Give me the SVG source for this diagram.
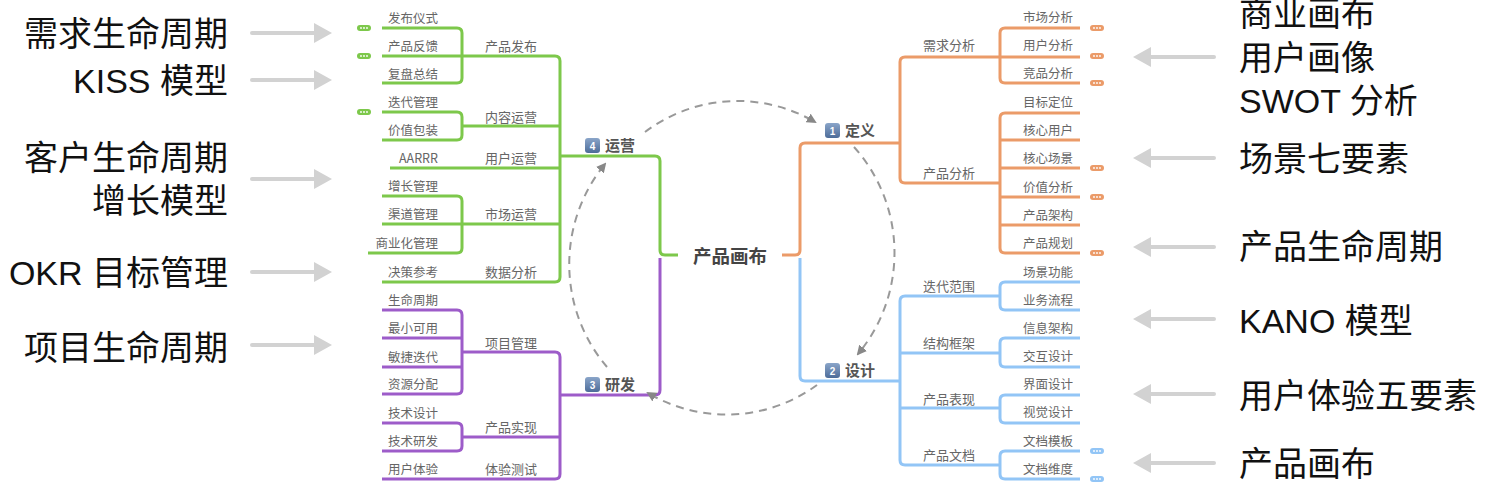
<svg xmlns="http://www.w3.org/2000/svg" xmlns:xlink="http://www.w3.org/1999/xlink" width="1500" height="497" viewBox="0 0 1500 497">
<defs>
<style>
.big{font-family:"Liberation Sans","Noto Sans CJK SC",sans-serif;font-size:34px;fill:#111}
.t{font-family:"Noto Sans CJK SC","Liberation Sans",sans-serif;font-size:12.5px;fill:#666}
.sub{font-family:"Noto Sans CJK SC","Liberation Sans",sans-serif;font-size:13px;fill:#666;text-anchor:middle}
.main{font-family:"Noto Sans CJK SC",sans-serif;font-size:15px;fill:#555;font-weight:700}
.root{font-family:"Noto Sans CJK SC",sans-serif;font-size:18.5px;fill:#444;font-weight:700;text-anchor:middle}
.num{font-family:"Liberation Sans",sans-serif;font-size:10px;fill:#fff;font-weight:700;text-anchor:middle}
.g{fill:none;stroke:#7dc84b;stroke-width:3;stroke-linejoin:round}
.o{fill:none;stroke:#eb9b69;stroke-width:3;stroke-linejoin:round}
.b{fill:none;stroke:#92c5f6;stroke-width:3;stroke-linejoin:round}
.p{fill:none;stroke:#9d5cc9;stroke-width:3;stroke-linejoin:round}
.dash{fill:none;stroke:#999;stroke-width:2;stroke-dasharray:8 6}
.garrow{stroke:#d2d2d2;stroke-width:4;stroke-linecap:round}
.ghead{fill:#d2d2d2}
</style>
<linearGradient id="ic" x1="0" y1="0" x2="0" y2="1">
<stop offset="0" stop-color="#8aa5c9"/>
<stop offset="1" stop-color="#4d6c99"/>
</linearGradient>
<marker id="ah" markerWidth="10" markerHeight="10" refX="8" refY="5" orient="auto" markerUnits="userSpaceOnUse">
<path d="M0,0 L10,5 L0,10 Z" fill="#888"/>
</marker>
<g id="dots"><circle cx="4" cy="0" r="0.9" fill="#fff"/><circle cx="7" cy="0" r="0.9" fill="#fff"/><circle cx="10" cy="0" r="0.9" fill="#fff"/></g>
</defs>
<rect width="1500" height="497" fill="#fff"/>

<g id="connectors">
<!-- green -->
<path class="g" d="M382,28 H457 Q462,28 462,33 V78 Q462,83 457,83 H382"/>
<path class="g" d="M382,56 H555 Q560,56 560,61 V277 Q560,282 555,282 H382"/>
<path class="g" d="M382,112 H457 Q462,112 462,117 V135 Q462,140 457,140 H382"/>
<path class="g" d="M462,126 H560"/>
<path class="g" d="M390,168 H560"/>
<path class="g" d="M382,196 H457 Q462,196 462,201 V248 Q462,253 457,253 H368"/>
<path class="g" d="M382,224 H560"/>
<path class="g" d="M560,156 H655 Q660,156 660,161 V250 Q660,255 665,255 H678"/>
<!-- purple -->
<path class="p" d="M660,258 V390 Q660,395 655,395 H560"/>
<path class="p" d="M462,352 H555 Q560,352 560,357 V474 Q560,479 555,479 H382"/>
<path class="p" d="M382,310 H457 Q462,310 462,315 V389 Q462,394 457,394 H382"/>
<path class="p" d="M382,338 H462 M382,367 H462"/>
<path class="p" d="M382,423 H457 Q462,423 462,428 V446 Q462,451 457,451 H382"/>
<path class="p" d="M462,437 H560"/>
<!-- orange -->
<path class="o" d="M782,255 H795 Q800,255 800,250 V148 Q800,143 805,143 H900"/>
<path class="o" d="M1080,57 H905 Q900,57 900,62 V178 Q900,183 905,183 H1000"/>
<path class="o" d="M1080,28 H1005 Q1000,28 1000,33 V78 Q1000,83 1005,83 H1080"/>
<path class="o" d="M1080,113 H1005 Q1000,113 1000,118 V248 Q1000,253 1005,253 H1080"/>
<path class="o" d="M1000,140 H1080 M1000,168 H1080 M1000,197 H1080 M1000,225 H1080"/>
<!-- blue -->
<path class="b" d="M800,258 V376 Q800,381 805,381 H900"/>
<path class="b" d="M1000,296 H905 Q900,296 900,301 V460 Q900,465 905,465 H1000"/>
<path class="b" d="M900,353 H1000 M900,408 H1000"/>
<path class="b" d="M1080,282 H1005 Q1000,282 1000,287 V305 Q1000,310 1005,310 H1080"/>
<path class="b" d="M1080,338 H1005 Q1000,338 1000,343 V362 Q1000,367 1005,367 H1080"/>
<path class="b" d="M1080,395 H1005 Q1000,395 1000,400 V418 Q1000,423 1005,423 H1080"/>
<path class="b" d="M1080,451 H1005 Q1000,451 1000,456 V474 Q1000,479 1005,479 H1080"/>
<!-- dashed cycle -->
<path class="dash" d="M645,132 A155 157 0 0 1 815,122" marker-end="url(#ah)"/>
<path class="dash" d="M854,147 A155 157 0 0 1 858,354" marker-end="url(#ah)"/>
<path class="dash" d="M817,385 A155 157 0 0 1 648,393" marker-end="url(#ah)"/>
<path class="dash" d="M607,367 A155 157 0 0 1 605,164" marker-end="url(#ah)"/>
<!-- big gray arrows left -->
<g>
<line class="garrow" x1="252" y1="33" x2="316" y2="33"/><path class="ghead" d="M314,23 L332,33 L314,43 Z"/>
<line class="garrow" x1="252" y1="80" x2="316" y2="80"/><path class="ghead" d="M314,70 L332,80 L314,90 Z"/>
<line class="garrow" x1="252" y1="179" x2="316" y2="179"/><path class="ghead" d="M314,169 L332,179 L314,189 Z"/>
<line class="garrow" x1="252" y1="272" x2="316" y2="272"/><path class="ghead" d="M314,262 L332,272 L314,282 Z"/>
<line class="garrow" x1="252" y1="345" x2="316" y2="345"/><path class="ghead" d="M314,335 L332,345 L314,355 Z"/>
</g>
<!-- big gray arrows right -->
<g>
<line class="garrow" x1="1148" y1="57" x2="1214" y2="57"/><path class="ghead" d="M1151,47 L1133,57 L1151,67 Z"/>
<line class="garrow" x1="1148" y1="158" x2="1214" y2="158"/><path class="ghead" d="M1151,148 L1133,158 L1151,168 Z"/>
<line class="garrow" x1="1148" y1="247" x2="1214" y2="247"/><path class="ghead" d="M1151,237 L1133,247 L1151,257 Z"/>
<line class="garrow" x1="1148" y1="319" x2="1214" y2="319"/><path class="ghead" d="M1151,309 L1133,319 L1151,329 Z"/>
<line class="garrow" x1="1148" y1="394" x2="1214" y2="394"/><path class="ghead" d="M1151,384 L1133,394 L1151,404 Z"/>
<line class="garrow" x1="1148" y1="463" x2="1214" y2="463"/><path class="ghead" d="M1151,453 L1133,463 L1151,473 Z"/>
</g>
</g>

<!-- collapse pills -->
<g id="pills">
<g transform="translate(357,28)"><rect x="0" y="-3" width="14" height="6" rx="3" fill="#7dc84b"/><use xlink:href="#dots" href="#dots"/></g>
<g transform="translate(357,56)"><rect x="0" y="-3" width="14" height="6" rx="3" fill="#7dc84b"/><use xlink:href="#dots" href="#dots"/></g>
<g transform="translate(357,112)"><rect x="0" y="-3" width="14" height="6" rx="3" fill="#7dc84b"/><use xlink:href="#dots" href="#dots"/></g>
<g transform="translate(1090,28)"><rect x="0" y="-3" width="14" height="6" rx="3" fill="#eb9b69"/><use xlink:href="#dots" href="#dots"/></g>
<g transform="translate(1090,56)"><rect x="0" y="-3" width="14" height="6" rx="3" fill="#eb9b69"/><use xlink:href="#dots" href="#dots"/></g>
<g transform="translate(1090,83)"><rect x="0" y="-3" width="14" height="6" rx="3" fill="#eb9b69"/><use xlink:href="#dots" href="#dots"/></g>
<g transform="translate(1090,168)"><rect x="0" y="-3" width="14" height="6" rx="3" fill="#eb9b69"/><use xlink:href="#dots" href="#dots"/></g>
<g transform="translate(1090,197)"><rect x="0" y="-3" width="14" height="6" rx="3" fill="#eb9b69"/><use xlink:href="#dots" href="#dots"/></g>
<g transform="translate(1090,253)"><rect x="0" y="-3" width="14" height="6" rx="3" fill="#eb9b69"/><use xlink:href="#dots" href="#dots"/></g>
<g transform="translate(1090,451)"><rect x="0" y="-3" width="14" height="6" rx="3" fill="#92c5f6"/><use xlink:href="#dots" href="#dots"/></g>
<g transform="translate(1090,479)"><rect x="0" y="-3" width="14" height="6" rx="3" fill="#92c5f6"/><use xlink:href="#dots" href="#dots"/></g>
</g>

<!-- root and main topics -->
<g id="root"><text class="root" x="730" y="263">产品画布</text></g>
<g id="n-yunying"><rect x="585" y="138" width="15" height="15" rx="3" fill="url(#ic)"/><text class="num" x="592.5" y="149.5">4</text><text class="main" x="605" y="151">运营</text></g>
<g id="n-dingyi"><rect x="825" y="123" width="15" height="15" rx="3" fill="url(#ic)"/><text class="num" x="832.5" y="134.5">1</text><text class="main" x="845" y="136">定义</text></g>
<g id="n-sheji"><rect x="825" y="363" width="15" height="15" rx="3" fill="url(#ic)"/><text class="num" x="832.5" y="374.5">2</text><text class="main" x="845" y="376">设计</text></g>
<g id="n-yanfa"><rect x="585" y="377" width="15" height="15" rx="3" fill="url(#ic)"/><text class="num" x="592.5" y="388.5">3</text><text class="main" x="605" y="390">研发</text></g>

<!-- left sub topics -->
<g id="left-subs">
<text class="sub" x="511" y="51">产品发布</text>
<text class="sub" x="511" y="122">内容运营</text>
<text class="sub" x="511" y="163">用户运营</text>
<text class="sub" x="511" y="219">市场运营</text>
<text class="sub" x="511" y="277">数据分析</text>
<text class="sub" x="511" y="348">项目管理</text>
<text class="sub" x="511" y="432">产品实现</text>
<text class="sub" x="511" y="474">体验测试</text>
</g>
<g id="left-leaves" text-anchor="end">
<text class="t" x="438" y="23">发布仪式</text>
<text class="t" x="438" y="51">产品反馈</text>
<text class="t" x="438" y="79">复盘总结</text>
<text class="t" x="438" y="107">迭代管理</text>
<text class="t" x="438" y="135">价值包装</text>
<text class="t" x="438" y="163">AARRR</text>
<text class="t" x="438" y="191">增长管理</text>
<text class="t" x="438" y="219">渠道管理</text>
<text class="t" x="438" y="248">商业化管理</text>
<text class="t" x="438" y="277">决策参考</text>
<text class="t" x="438" y="305">生命周期</text>
<text class="t" x="438" y="333">最小可用</text>
<text class="t" x="438" y="362">敏捷迭代</text>
<text class="t" x="438" y="389">资源分配</text>
<text class="t" x="438" y="418">技术设计</text>
<text class="t" x="438" y="446">技术研发</text>
<text class="t" x="438" y="474">用户体验</text>
</g>

<!-- right sub topics -->
<g id="right-subs">
<text class="sub" x="949" y="50">需求分析</text>
<text class="sub" x="949" y="178">产品分析</text>
<text class="sub" x="949" y="291">迭代范围</text>
<text class="sub" x="949" y="348">结构框架</text>
<text class="sub" x="949" y="404">产品表现</text>
<text class="sub" x="949" y="460">产品文档</text>
</g>
<g id="right-leaves" text-anchor="end">
<text class="t" x="1073" y="22">市场分析</text>
<text class="t" x="1073" y="50">用户分析</text>
<text class="t" x="1073" y="78">竞品分析</text>
<text class="t" x="1073" y="107">目标定位</text>
<text class="t" x="1073" y="135">核心用户</text>
<text class="t" x="1073" y="163">核心场景</text>
<text class="t" x="1073" y="192">价值分析</text>
<text class="t" x="1073" y="220">产品架构</text>
<text class="t" x="1073" y="248">产品规划</text>
<text class="t" x="1073" y="277">场景功能</text>
<text class="t" x="1073" y="305">业务流程</text>
<text class="t" x="1073" y="333">信息架构</text>
<text class="t" x="1073" y="361">交互设计</text>
<text class="t" x="1073" y="389">界面设计</text>
<text class="t" x="1073" y="417">视觉设计</text>
<text class="t" x="1073" y="446">文档模板</text>
<text class="t" x="1073" y="474">文档维度</text>
</g>

<!-- big side labels -->
<g id="left-labels" text-anchor="end">
<text class="big" x="228" y="46">需求生命周期</text>
<text class="big" x="228" y="93">KISS 模型</text>
<text class="big" x="228" y="170">客户生命周期</text>
<text class="big" x="228" y="213">增长模型</text>
<text class="big" x="228" y="285">OKR 目标管理</text>
<text class="big" x="228" y="360">项目生命周期</text>
</g>
<g id="right-labels">
<text class="big" x="1239" y="26">商业画布</text>
<text class="big" x="1239" y="70">用户画像</text>
<text class="big" x="1239" y="113">SWOT 分析</text>
<text class="big" x="1239" y="171">场景七要素</text>
<text class="big" x="1239" y="259">产品生命周期</text>
<text class="big" x="1239" y="333">KANO 模型</text>
<text class="big" x="1239" y="408">用户体验五要素</text>
<text class="big" x="1239" y="476">产品画布</text>
</g>
</svg>
